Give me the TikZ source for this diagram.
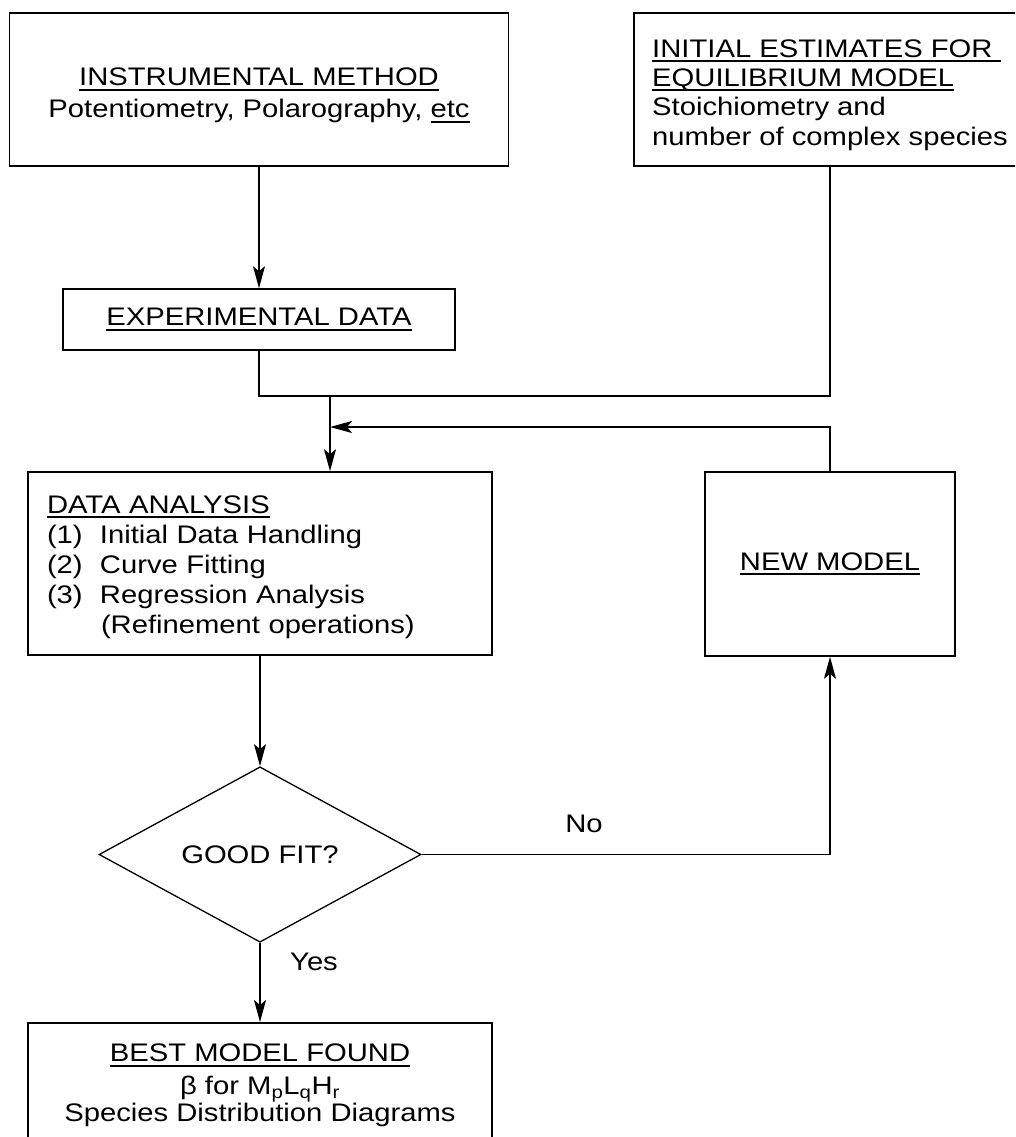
\documentclass[tikz,border=0pt]{standalone}
\usepackage{fontspec}
\setmainfont{Liberation Sans}[FakeStretch=1.15]
\usetikzlibrary{shapes.geometric,arrows.meta}
\newcommand\myul[1]{\setbox0\hbox{#1}\rlap{\rule[-4.8pt]{\wd0}{1.8pt}}\box0}
\tikzset{
  box/.style={draw, line width=1.6pt, rectangle, inner sep=0pt},
  txt/.style={font=\fontsize{25.4}{30}\selectfont},
  conn/.style={line width=1.3pt},
  arr/.style={conn, -{Stealth[length=22pt,width=12pt,inset=5pt]}},
}
\begin{document}
\begin{tikzpicture}[x=1pt,y=-1pt]
\useasboundingbox (0,0) rectangle (1015,1137);
\clip (0,0) rectangle (1015,1137);
\fill[white] (0,0) rectangle (1015,1137);

\node[box, txt, align=center, minimum width=499pt, minimum height=153pt] (b1) at (259,89.5)
  {\rule{0pt}{30pt}\myul{INSTRUMENTAL METHOD}\\[2pt]Potentiometry, Polarography, \myul{etc}};
\node[box, txt, align=left, minimum width=392pt, minimum height=153pt] (b2) at (830,89.5)
  {\rule{0pt}{28.5pt}\myul{INITIAL ESTIMATES FOR\hspace{8pt}}\\[-1pt]\myul{EQUILIBRIUM MODEL}\\[-1pt]Stoichiometry and\\number of complex species};
\node[box, txt, minimum width=392pt, minimum height=61pt] (exp) at (259,319.5)
  {\myul{EXPERIMENTAL DATA}};
\node[box, txt, align=left, text width=426pt, minimum width=464pt, minimum height=183pt] (da) at (260,563.5)
  {\rule{0pt}{25pt}\myul{DATA ANALYSIS}\\
   \makebox[53pt][l]{(1)}Initial Data Handling\\
   \makebox[53pt][l]{(2)}Curve Fitting\\
   \makebox[53pt][l]{(3)}Regression Analysis\\
   \hspace*{54pt}(Refinement operations)};
\node[box, txt, minimum width=250pt, minimum height=184pt] (nm) at (830,564)
  {\myul{NEW MODEL}};
\node[draw, line width=1.3pt, diamond, txt, inner sep=0pt, minimum width=322pt, minimum height=153pt] (dia) at (260,854.5)
  {GOOD FIT?};
\node[box, anchor=north, minimum width=464pt, minimum height=200pt] (best) at (260,1022) {};
\node[txt, align=center, anchor=north, inner sep=0pt] (bt) at (260,1044)
  {\myul{BEST MODEL FOUND}\\[3pt]β for M\textsubscript{p}L\textsubscript{q}H\textsubscript{r}\\[-3pt]Species Distribution Diagrams};

\coordinate (jl) at (259,396);
\coordinate (jm) at (330,396);
\coordinate (jr) at (830,396);
\coordinate (fb) at (330,427);

\draw[arr] (b1.south) -- (exp.north);
\draw[conn] (exp.south) -- (jl) -- (jr) -- (b2.south);
\draw[arr] (jm) -- (da.north -| jm);
\draw[arr] (nm.north) |- (fb);
\draw[arr] (da.south) -- (dia.north);
\draw[arr] (dia.east) -| (nm.south);
\draw[arr] (dia.south) -- (best.north);

\node[txt, anchor=base] (no) at (584,832) {No};
\node[txt, anchor=base] (yes) at (314,970) {Yes};
\end{tikzpicture}
\end{document}
